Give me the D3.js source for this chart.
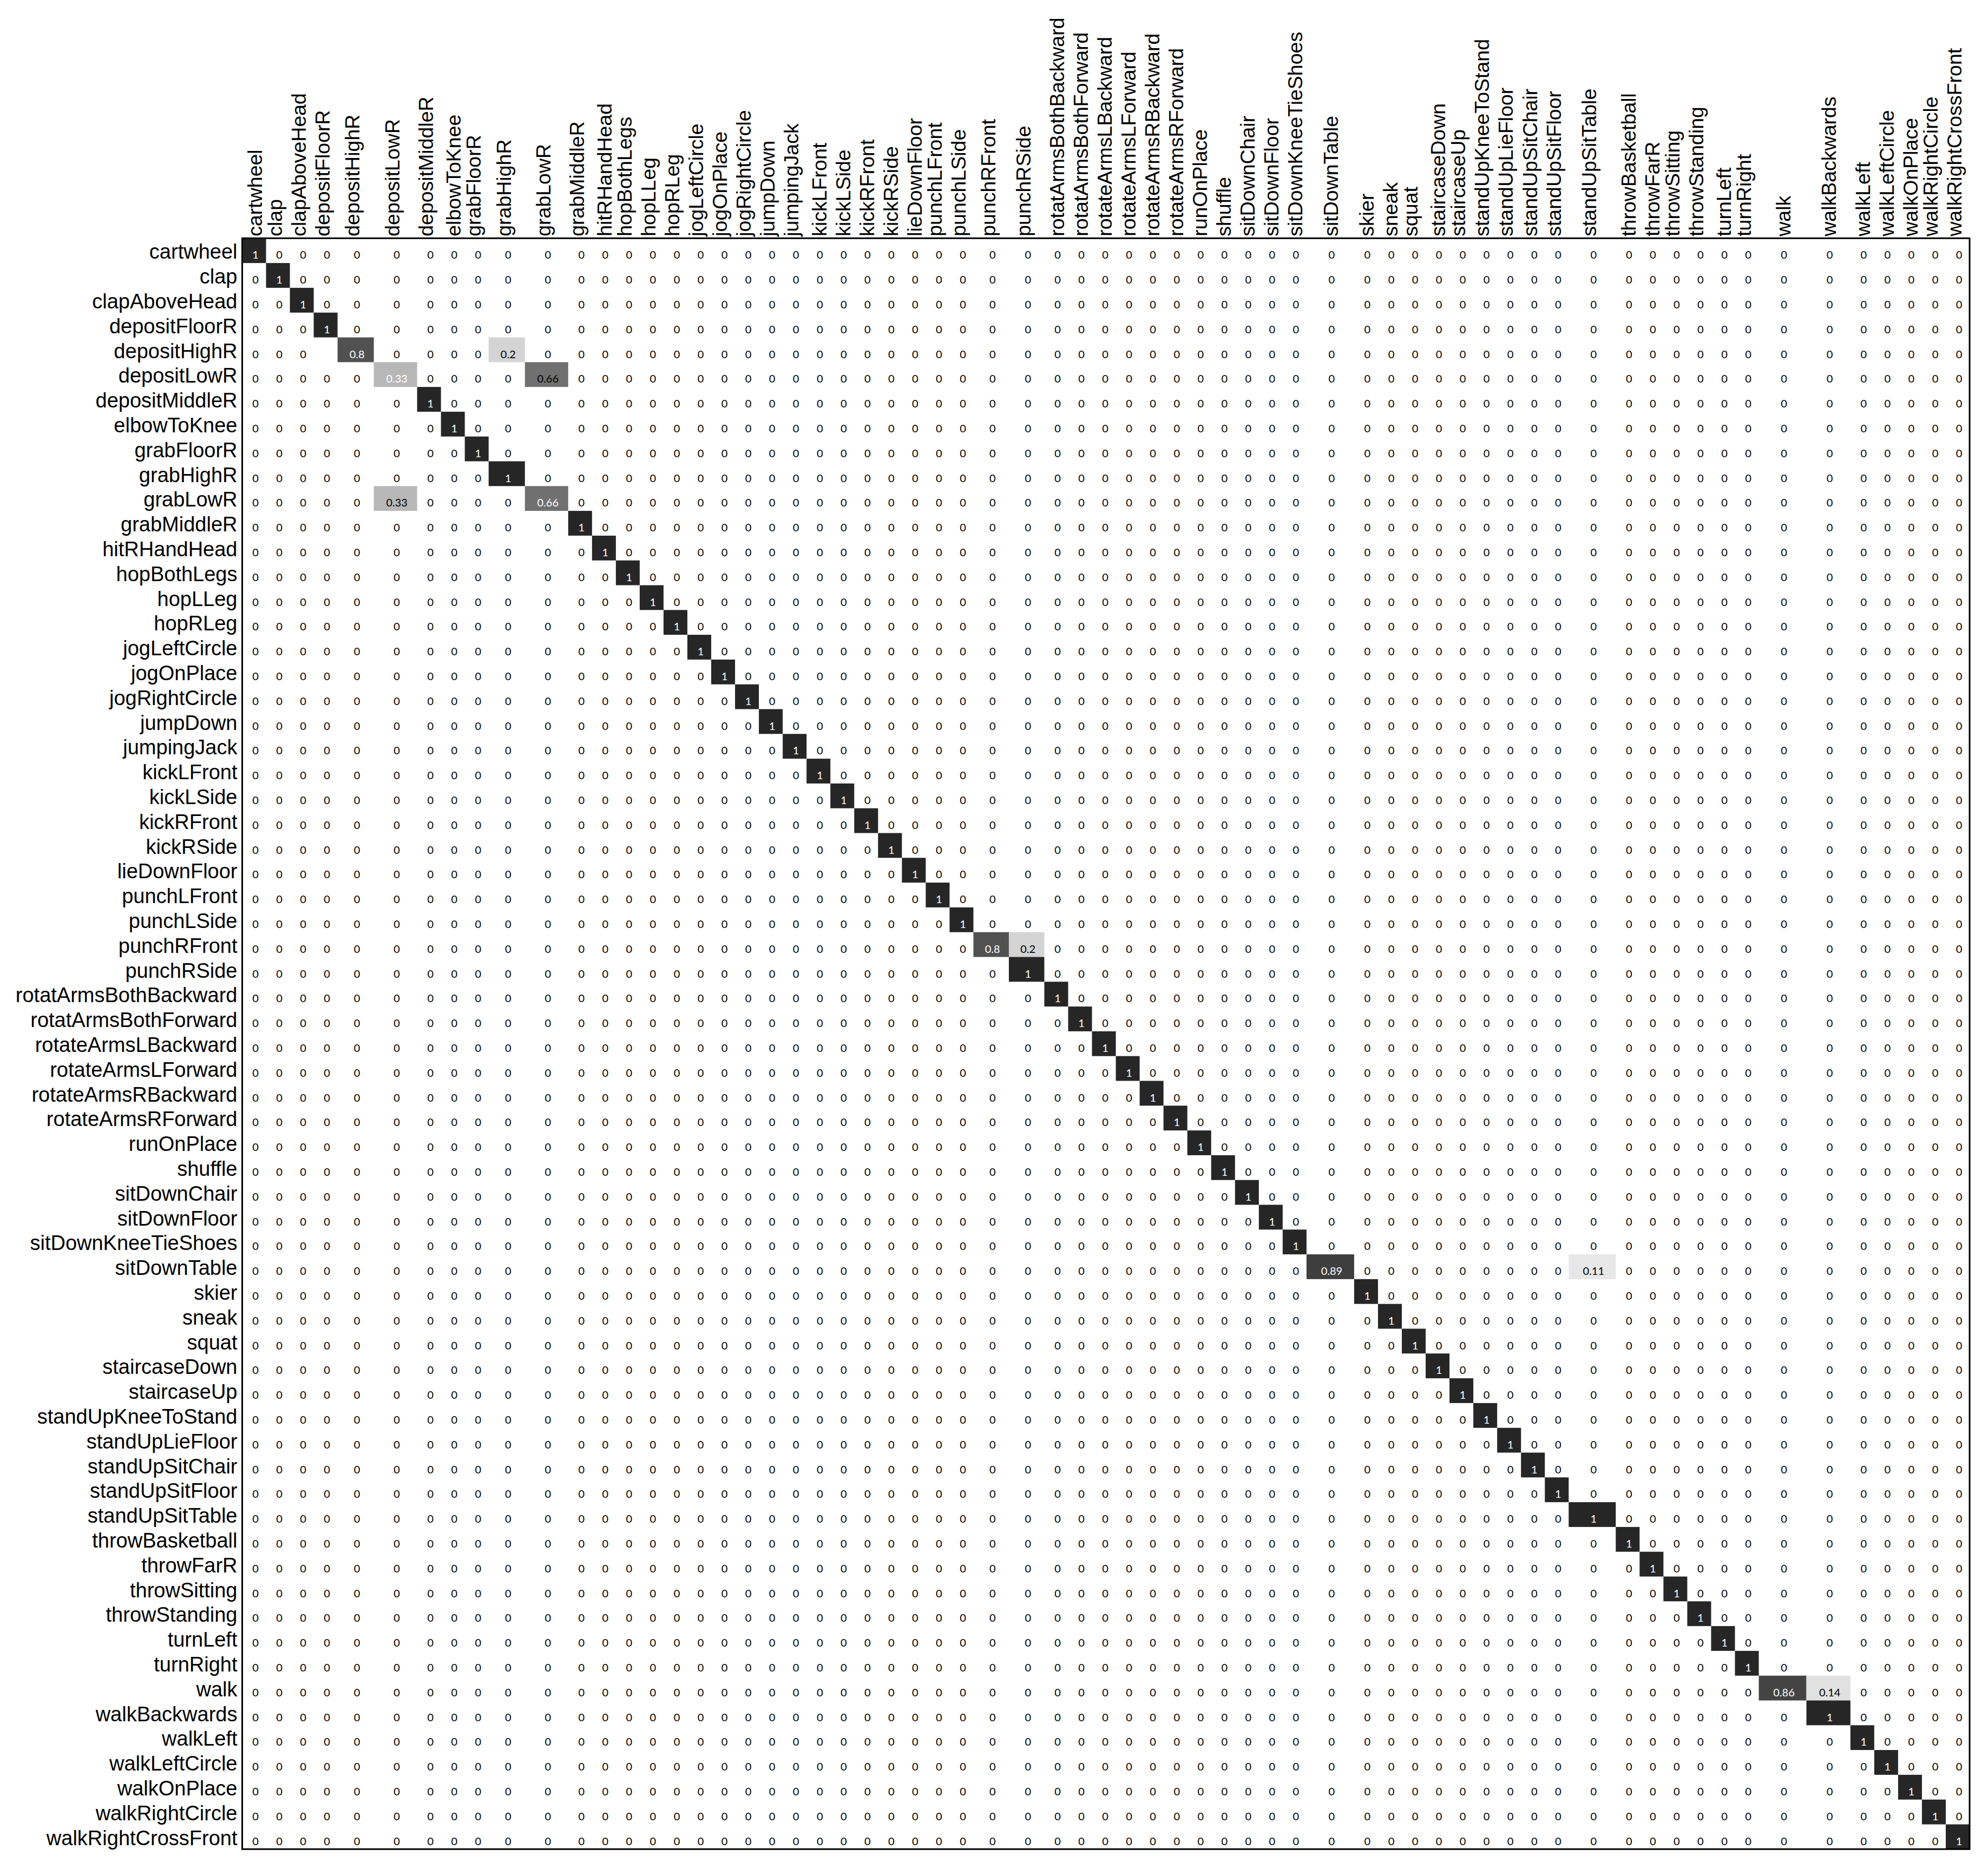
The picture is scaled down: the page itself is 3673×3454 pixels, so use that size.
<!DOCTYPE html>
<html>
<head>
<meta charset="utf-8">
<script src="https://cdn.jsdelivr.net/npm/d3@7"></script>
<style>
  body { margin: 0; background: #fff; }
  svg { display: block; }
</style>
</head>
<body>
<div id="container"></div>
<script>
// data

// activities, same order on both axes (rows = actual, columns = predicted)
const activities = [
  "cartwheel", "clap", "clapAboveHead", "depositFloorR", "depositHighR", "depositLowR",
  "depositMiddleR", "elbowToKnee", "grabFloorR", "grabHighR", "grabLowR", "grabMiddleR",
  "hitRHandHead", "hopBothLegs", "hopLLeg", "hopRLeg", "jogLeftCircle", "jogOnPlace",
  "jogRightCircle", "jumpDown", "jumpingJack", "kickLFront", "kickLSide", "kickRFront",
  "kickRSide", "lieDownFloor", "punchLFront", "punchLSide", "punchRFront", "punchRSide",
  "rotatArmsBothBackward", "rotatArmsBothForward", "rotateArmsLBackward", "rotateArmsLForward",
  "rotateArmsRBackward", "rotateArmsRForward", "runOnPlace", "shuffle", "sitDownChair",
  "sitDownFloor", "sitDownKneeTieShoes", "sitDownTable", "skier", "sneak", "squat",
  "staircaseDown", "staircaseUp", "standUpKneeToStand", "standUpLieFloor", "standUpSitChair",
  "standUpSitFloor", "standUpSitTable", "throwBasketball", "throwFarR", "throwSitting",
  "throwStanding", "turnLeft", "turnRight", "walk", "walkBackwards", "walkLeft",
  "walkLeftCircle", "walkOnPlace", "walkRightCircle", "walkRightCrossFront"
];

// share of each activity recognised as itself (diagonal)
const diagonal = [
  1, 1, 1, 1, 0.8, 0.33,
  1, 1, 1, 1, 0.66, 1,
  1, 1, 1, 1, 1, 1,
  1, 1, 1, 1, 1, 1,
  1, 1, 1, 1, 0.8, 1,
  1, 1, 1, 1,
  1, 1, 1, 1, 1,
  1, 1, 0.89, 1, 1, 1,
  1, 1, 1, 1, 1,
  1, 1, 1, 1, 1,
  1, 1, 1, 0.86, 1, 1,
  1, 1, 1, 1
];

// off-diagonal confusions: [actual, predicted, share]
const confusions = [
  ["depositHighR", "grabHighR", 0.2],
  ["depositLowR", "grabLowR", 0.66],
  ["grabLowR", "depositLowR", 0.33],
  ["punchRFront", "punchRSide", 0.2],
  ["sitDownTable", "standUpSitTable", 0.11],
  ["walk", "walkBackwards", 0.14]
];

// cells whose number is not printed in the original
const unlabeled = [["depositHighR", "depositFloorR"]];

// layout

const svgW = 3673;
const svgH = 3454;
const plotLeft = 447.5;
const plotTop = 440.3;
const plotBottom = 3417.3;
const baseColW = 44.04;
// columns holding decimals are wider
const wideCols = {
  depositHighR: 67, depositLowR: 80, grabHighR: 67, grabLowR: 80,
  punchRFront: 65.5, punchRSide: 65.5, sitDownTable: 88, standUpSitTable: 87,
  walk: 88, walkBackwards: 81.3
};

const labelFont = "'Liberation Sans', Arial, sans-serif";
const cellFont = "Lato, 'Open Sans', sans-serif";

// build cells
const confusionMap = new Map(confusions.map(d => [d[0] + "|" + d[1], d[2]]));
const hidden = new Set(unlabeled.map(d => d[0] + "|" + d[1]));

const cells = activities.flatMap((r, i) => activities.map((c, j) => ({
  row: r,
  col: c,
  diag: i === j,
  value: i === j ? diagonal[i] : (confusionMap.get(r + "|" + c) || 0)
})));

// scales

const widths = activities.map(a => wideCols[a] || baseColW);
const lefts = widths.map((w, i) => plotLeft + d3.sum(widths.slice(0, i)));
const plotRight = plotLeft + d3.sum(widths);

const xScale = d3.scaleOrdinal().domain(activities).range(lefts);
const wScale = d3.scaleOrdinal().domain(activities).range(widths);
const yScale = d3.scaleBand().domain(activities).range([plotTop, plotBottom]);
const color = d3.scaleLinear().domain([0, 1]).range(["#ffffff", "#262626"]);

// elements

const svg = d3.select("#container")
  .append("svg")
  .attr("width", svgW)
  .attr("height", svgH)
  .style("background", "#fff");

svg.append("g")
  .selectAll("rect")
  .data(cells.filter(d => d.value > 0))
  .join("rect")
  .attr("x", d => xScale(d.col))
  .attr("y", d => yScale(d.row))
  .attr("width", d => wScale(d.col))
  .attr("height", yScale.bandwidth())
  .attr("fill", d => color(d.value));

svg.append("g")
  .selectAll("text")
  .data(cells.filter(d => !hidden.has(d.row + "|" + d.col)))
  .join("text")
  .attr("x", d => xScale(d.col) + wScale(d.col) / 2 + 2.5)
  .attr("y", d => yScale(d.row) + 38)
  .attr("text-anchor", "middle")
  .attr("font-family", cellFont)
  .attr("font-size", 20)
  .attr("fill", d => d.diag ? "#ffffff" : "#000000")
  .text(d => String(d.value));

// row labels
svg.append("g")
  .selectAll("text")
  .data(activities)
  .join("text")
  .attr("x", 438.5)
  .attr("y", d => yScale(d) + 38)
  .attr("text-anchor", "end")
  .attr("font-family", labelFont)
  .attr("font-size", 38)
  .attr("fill", "#000")
  .text(d => d);

// column labels, rotated
const hasDesc = s => /[gjpqy]/.test(s);
svg.append("g")
  .selectAll("text")
  .data(activities)
  .join("text")
  .attr("transform", d => `translate(${xScale(d) + wScale(d) / 2 + (hasDesc(d) ? 7.3 : 14.3)},${plotTop - 3.5}) rotate(-90)`)
  .attr("font-family", labelFont)
  .attr("font-size", 37.5)
  .attr("fill", "#000")
  .text(d => d);

// frame
svg.append("rect")
  .attr("x", plotLeft)
  .attr("y", plotTop)
  .attr("width", plotRight - plotLeft)
  .attr("height", plotBottom - plotTop)
  .attr("fill", "none")
  .attr("stroke", "#000")
  .attr("stroke-width", 3);
</script>
</body>
</html>
